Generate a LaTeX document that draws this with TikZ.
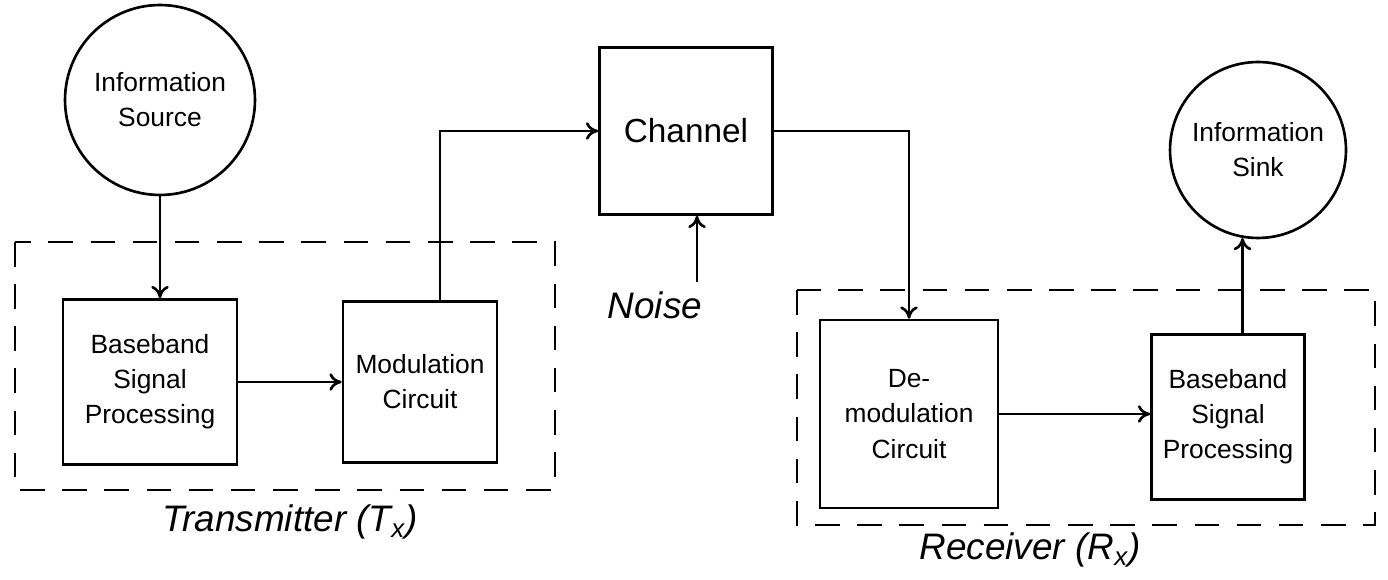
\documentclass[tikz,border=0pt]{standalone}
\usepackage{fontspec}
\setmainfont{Liberation Sans}
\usetikzlibrary{arrows.meta}
\begin{document}
\begin{tikzpicture}[x=0.02cm,y=-0.02cm,
  blk/.style={draw, line width=1.5pt, align=center, inner sep=2pt, font=\fontsize{15}{20}\selectfont},
  circ/.style={draw, circle, line width=1.5pt, align=center, inner sep=0pt, font=\fontsize{15}{20}\selectfont},
  arr/.style={line width=1.5pt, -{To[length=7pt,width=10pt]}},
  grp/.style={draw, dashed, line width=1.5pt, dash pattern=on 14pt off 10pt},
  lbl/.style={font=\fontsize{21}{24}\itshape}]
\useasboundingbox (0,0) rectangle (1388,580);
% groups
\draw[grp] (15,242) rectangle (555,490);
\draw[grp] (797,290) rectangle (1375,525);
% nodes
\node[circ, minimum size=3.8cm] (src) at (160,100) {Information\\Source};
\node[blk, minimum width=3.48cm, minimum height=3.3cm] (bb1) at (150,382) {Baseband\\Signal\\Processing};
\node[blk, minimum width=3.08cm, minimum height=3.22cm] (mod) at (420,382) {Modulation\\Circuit};
\node[blk, minimum width=3.46cm, minimum height=3.34cm, font=\fontsize{19}{22}\selectfont] (ch) at (686,131) {Channel};
\node[font=\fontsize{21}{24}\itshape] (noise) at (655,305) {Noise};
\node[blk, minimum width=3.56cm, minimum height=3.76cm] (dem) at (909,414) {De-\\modulation\\Circuit};
\node[blk, minimum width=3.06cm, minimum height=3.3cm] (bb2) at (1228,417) {Baseband\\Signal\\Processing};
\node[circ, minimum size=3.52cm] (sink) at (1258,150) {Information\\Sink};
\node[lbl] (tx) at (290,522) {Transmitter (T\textsubscript{x})};
\node[lbl] (rx) at (1030,550) {Receiver (R\textsubscript{x})};
\coordinate (nz) at (697,282);
% connectors
\draw[arr] (src.south) -- (src.south |- bb1.north);
\draw[arr] (bb1.east) -- (mod.west);
\draw[arr] ([xshift=0.4cm]mod.north) |- (ch.west);
\draw[arr] (nz) -- (nz |- ch.south);
\draw[arr] (ch.east) -| (dem.north);
\draw[arr] (dem.east) -- (dem.east -| bb2.west);
\draw[arr] (sink.260 |- bb2.north) -- (sink.260);
\end{tikzpicture}
\end{document}
